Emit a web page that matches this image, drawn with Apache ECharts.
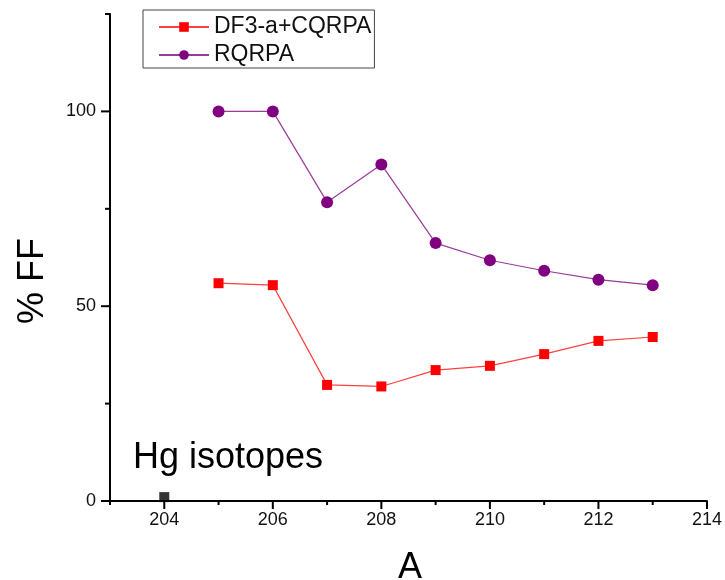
<!DOCTYPE html>
<html>
<head>
<meta charset="utf-8">
<script src="https://cdn.jsdelivr.net/npm/echarts@6/dist/echarts.min.js"></script>
<style>
html,body{margin:0;padding:0;background:#fff;}
#chart{width:725px;height:580px;}
</style>
</head>
<body>
<div id="chart"></div>
<script>
// ---- data ----
var massNumbers = [205, 206, 207, 208, 209, 210, 211, 212, 213];
var df3Values   = [55.9, 55.4, 29.8, 29.4, 33.6, 34.7, 37.7, 41.1, 42.1];
var rqrpaValues = [100, 100, 76.7, 86.4, 66.2, 61.8, 59.1, 56.8, 55.4];
var refPoint    = [[204, 1]];
var xMajorTicks = [204, 206, 208, 210, 212, 214];
var xMinorTicks = [203, 205, 207, 209, 211, 213];
var yMajorTicks = [0, 50, 100];
var yMinorTicks = [25, 75, 125];
var seriesNames = ['DF3-a+CQRPA', 'RQRPA'];

function zip(xs, ys) { return xs.map(function (x, i) { return [x, ys[i]]; }); }

var chart = echarts.init(document.getElementById('chart'), null, {renderer: 'canvas'});
var font = 'Liberation Sans, Arial, sans-serif';
var axisColor = '#000';
var X_MIN = 203, X_MAX = 214, Y_MIN = 0, Y_MAX = 125;

var option = {
  animation: false,
  backgroundColor: '#fff',
  grid: {left: 110, right: 18, top: 14, bottom: 79, containLabel: false},
  legend: {
    data: seriesNames,
    orient: 'vertical',
    left: 143, top: 10,
    padding: [5, 3, 1, 15],
    itemGap: 4,
    itemWidth: 50, itemHeight: 12,
    borderColor: '#444', borderWidth: 1,
    textStyle: {fontFamily: font, fontSize: 23, color: '#111', lineHeight: 24}
  },
  xAxis: {
    type: 'value', min: X_MIN, max: X_MAX, interval: 1,
    axisLine: {show: true, onZero: false, lineStyle: {color: axisColor, width: 2}},
    axisTick: {show: false},
    axisLabel: {fontFamily: font, fontSize: 18, color: '#111', margin: 10,
      formatter: function (v) { return xMajorTicks.indexOf(v) >= 0 ? String(v) : ''; }},
    splitLine: {show: false}
  },
  yAxis: {
    type: 'value', min: Y_MIN, max: Y_MAX, interval: 25,
    axisLine: {show: true, onZero: false, lineStyle: {color: axisColor, width: 2}},
    axisTick: {show: false},
    axisLabel: {fontFamily: font, fontSize: 18, color: '#111', margin: 14,
      formatter: function (v) { return yMajorTicks.indexOf(v) >= 0 ? String(v) : ''; }},
    splitLine: {show: false}
  },
  series: [{
    name: seriesNames[0], type: 'line',
    data: zip(massNumbers, df3Values),
    symbol: 'rect', symbolSize: 10,
    lineStyle: {color: '#ff4040', width: 1.2},
    itemStyle: {color: '#ff0000'}
  }, {
    name: seriesNames[1], type: 'line',
    data: zip(massNumbers, rqrpaValues),
    symbol: 'circle', symbolSize: 12,
    lineStyle: {color: '#9a3a9a', width: 1.2},
    itemStyle: {color: '#800080'}
  }, {
    name: 'ref', type: 'scatter',
    data: refPoint, symbol: 'rect', symbolSize: 10,
    itemStyle: {color: '#000'}, z: 5
  }],
  graphic: [{
    type: 'text', left: 133, top: 440,
    style: {text: 'Hg isotopes', font: '36px Liberation Sans, Arial, sans-serif', fill: '#000'}
  }, {
    type: 'text', x: 33, y: 281, rotation: Math.PI / 2,
    style: {text: '% FF', font: '36px Liberation Sans, Arial, sans-serif', fill: '#000',
            textAlign: 'center', textVerticalAlign: 'middle'}
  }, {
    type: 'text', x: 410, y: 568,
    style: {text: 'A', font: '36px Liberation Sans, Arial, sans-serif', fill: '#000',
            textAlign: 'center', textVerticalAlign: 'middle'}
  }]
};
chart.setOption(option);

// tick marks placed through the chart's own axis scales
var tickGraphics = [];
function addXTicks(values, len) {
  values.forEach(function (v) {
    var p = chart.convertToPixel({gridIndex: 0}, [v, Y_MIN]);
    tickGraphics.push({type: 'line', z: 100, silent: true,
      shape: {x1: p[0], y1: p[1], x2: p[0], y2: p[1] + len},
      style: {stroke: axisColor, lineWidth: 2}});
  });
}
function addYTicks(values, len) {
  values.forEach(function (v) {
    var p = chart.convertToPixel({gridIndex: 0}, [X_MIN, v]);
    tickGraphics.push({type: 'line', z: 100, silent: true,
      shape: {x1: p[0] - len, y1: p[1], x2: p[0], y2: p[1]},
      style: {stroke: axisColor, lineWidth: 2}});
  });
}
addXTicks(xMajorTicks, 8);
addXTicks(xMinorTicks, 4);
addYTicks(yMajorTicks, 9);
addYTicks(yMinorTicks, 5);
chart.setOption({graphic: option.graphic.concat(tickGraphics)});
</script>
</body>
</html>
